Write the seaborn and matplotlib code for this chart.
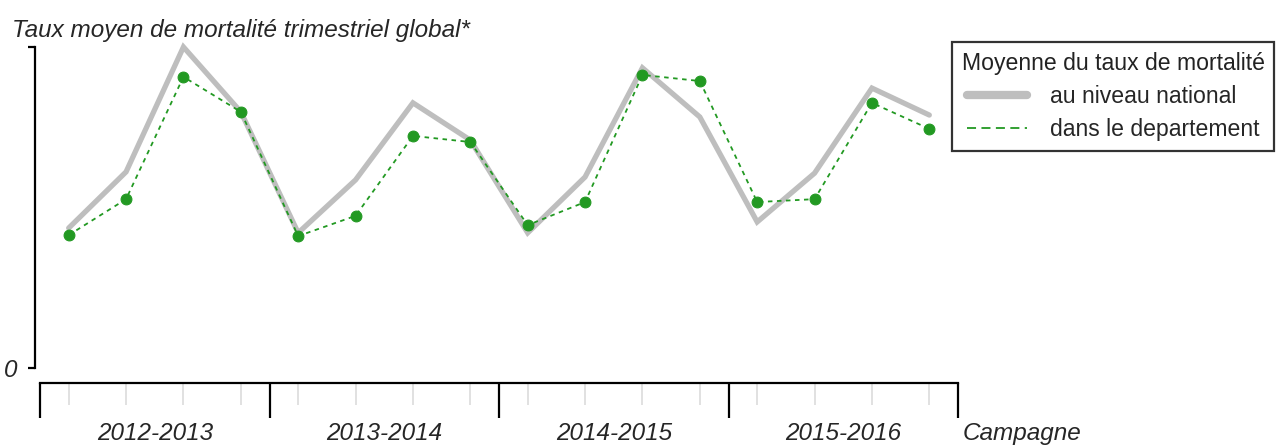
import numpy as np
import pandas as pd
import matplotlib
matplotlib.use("Agg")
import matplotlib.pyplot as plt
from matplotlib.lines import Line2D
import seaborn as sns

# data (arbitrary scale, top tick = 10)
campagnes = ["2012-2013", "2013-2014", "2014-2015", "2015-2016"]
trimestres = [1, 2, 3, 4]
national = [4.36, 6.11, 10.0, 7.98,
            4.21, 5.86, 8.26, 7.10,
            4.21, 5.95, 9.35, 7.82,
            4.55, 6.07, 8.72, 7.88]
departement = [4.14, 5.26, 9.07, 7.98,
               4.11, 4.74, 7.23, 7.04,
               4.45, 5.17, 9.13, 8.94,
               5.17, 5.26, 8.26, 7.45]

rows = []
for i, c in enumerate(campagnes):
    for j, t in enumerate(trimestres):
        rows.append({"campagne": c, "trimestre": t,
                     "pos": i + (j + 0.5) / len(trimestres),
                     "national": national[i * 4 + j],
                     "departement": departement[i * 4 + j]})
df = pd.DataFrame(rows)

sns.set_style("white")
plt.rcParams["font.family"] = ["Liberation Sans", "DejaVu Sans"]

fig = plt.figure(figsize=(12.83, 4.45), dpi=100)
ax = fig.add_axes([35 / 1283, 62 / 445, 923 / 1283, 343 / 445])

grey = "#bebebe"
green = "#229922"
fs = 17.5

sns.lineplot(data=df, x="pos", y="national", color=grey, linewidth=3.8,
             ax=ax, clip_on=False, solid_joinstyle="miter")
sns.lineplot(data=df, x="pos", y="departement", color=green, linewidth=1.3,
             linestyle=(0, (2.5, 2.5)), marker="o", markersize=7.8,
             markeredgecolor=green, ax=ax, clip_on=False)

ax.set_xlim(-5 / 229.5, 4)
ax.set_ylim(-15 / 32.1, 10 + 7 / 32.1)

for s in ["top", "right"]:
    ax.spines[s].set_visible(False)
ax.spines["left"].set_bounds(0, 10)
ax.spines["bottom"].set_bounds(0, 4)
for s in ["left", "bottom"]:
    ax.spines[s].set_linewidth(1.6)
    ax.spines[s].set_color("black")

ax.set_yticks([0, 10])
ax.set_yticklabels(["0", ""])
ax.tick_params(axis="y", direction="out", length=5, width=1.6, color="black",
               left=True, labelsize=fs, pad=8)
for lab in ax.get_yticklabels():
    lab.set_fontstyle("italic")

ax.set_xticks(range(len(campagnes) + 1))
ax.set_xticklabels([])
ax.set_xticks(df["pos"], minor=True)
ax.tick_params(axis="x", which="major", direction="out", length=25, width=1.6,
               color="black", bottom=True)
ax.tick_params(axis="x", which="minor", direction="out", length=16, width=1.2,
               color="#dcdcdc", bottom=True)

for i, c in enumerate(campagnes):
    ax.text(i + 0.5, -0.146, c, transform=ax.get_xaxis_transform(),
            ha="center", va="center", fontsize=fs, style="italic")
ax.text(4.02, -0.146, "Campagne", transform=ax.get_xaxis_transform(),
        ha="left", va="center", fontsize=fs, style="italic")

ax.set_xlabel("")
ax.set_ylabel("")
fig.text(12 / 1283, 1 - 30 / 445, "Taux moyen de mortalité trimestriel global*",
         ha="left", va="center", fontsize=fs, style="italic")

handles = [Line2D([], [], color=grey, linewidth=6, solid_capstyle="round"),
           Line2D([], [], color=green, linewidth=1.3, linestyle=(0, (5, 3)))]
leg = fig.legend(handles, ["au niveau national", "dans le departement"],
                 title="Moyenne du taux de mortalité",
                 loc="upper left", bbox_to_anchor=(952 / 1283, 1 - 42 / 445),
                 frameon=True, fancybox=False, fontsize=16.6, title_fontsize=16.6,
                 handlelength=2.6, handletextpad=1.0, borderpad=0.42,
                 labelspacing=0.45, borderaxespad=0)
leg.get_frame().set_edgecolor("black")
leg.get_frame().set_linewidth(1.6)
leg.get_title().set_color("#222222")

fig.savefig("out.png", dpi=100)
